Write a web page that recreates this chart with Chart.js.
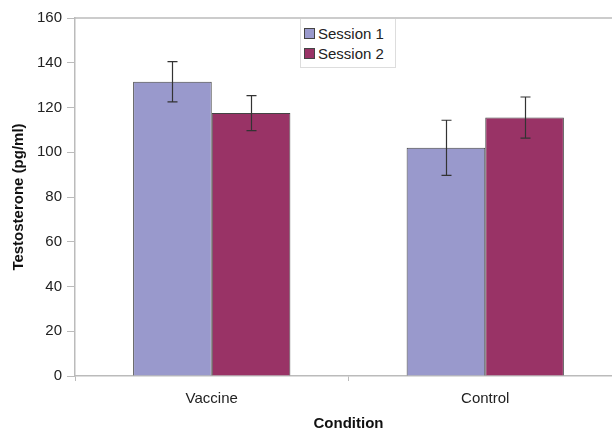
<!DOCTYPE html>
<html>
<head>
<meta charset="utf-8">
<script src="https://cdn.jsdelivr.net/npm/chart.js@4.4.0/dist/chart.umd.min.js"></script>
<style>
  html, body { margin: 0; padding: 0; background: #fff; overflow: hidden; }
  #wrap { position: relative; width: 622px; height: 433px; }
  #legend {
    position: absolute; left: 300px; top: 19px; width: 96px; height: 49px; padding-top: 4px; box-sizing: border-box;
    background: #fff; border: 1px solid #ddd; border-top: none;
    font: 15px "Liberation Sans", Arial, sans-serif; color: #222;
  }
  #legend div { display: flex; align-items: center; height: 20px; padding-left: 3px; }
  #legend span.sw { width: 9px; height: 9px; border: 1px solid #444; margin-right: 3px; }
</style>
</head>
<body>
<div id="wrap">
  <canvas id="c" width="622" height="433"></canvas>
  <div id="legend"></div>
</div>
<script>
const categories = ['Vaccine', 'Control']
const seriesNames = ['Session 1', 'Session 2']
const session1 = [131.5, 102]
const session2 = [117.5, 115.5]
const session1Err = [9, 12.3]
const session2Err = [7.8, 9.2]
const colors = ['#9999cc', '#993366']

const legend = document.getElementById('legend')
seriesNames.forEach((name, i) => {
  const row = document.createElement('div')
  row.innerHTML = `<span class="sw" style="background:${colors[i]}"></span>${name}`
  legend.appendChild(row)
})

const errorBars = {
  id: 'errorBars',
  afterDatasetsDraw(chart) {
    const { ctx, scales: { y } } = chart
    const errs = [session1Err, session2Err]
    ctx.save()
    ctx.strokeStyle = '#333'
    ctx.lineWidth = 1.2
    chart.data.datasets.forEach((ds, di) => {
      chart.getDatasetMeta(di).data.forEach((bar, i) => {
        const v = ds.data[i], e = errs[di][i]
        const top = y.getPixelForValue(v + e), bot = y.getPixelForValue(v - e)
        const x = Math.round(bar.x) + 0.5
        ctx.beginPath()
        ctx.moveTo(x, top); ctx.lineTo(x, bot)
        ctx.moveTo(x - 5, top); ctx.lineTo(x + 5, top)
        ctx.moveTo(x - 5, bot); ctx.lineTo(x + 5, bot)
        ctx.stroke()
      })
    })
    ctx.restore()
  }
}

const frame = {
  id: 'frame',
  beforeDatasetsDraw(chart) {
    const { ctx, chartArea: a } = chart
    ctx.save()
    ctx.strokeStyle = '#bbb'
    ctx.lineWidth = 1.5
    ctx.beginPath()
    ctx.moveTo(a.left, a.top); ctx.lineTo(a.right, a.top)
    ctx.stroke()
    ctx.restore()
  }
}

const tickFont = { family: 'Liberation Sans', size: 15 }
const titleFont = { family: 'Liberation Sans', size: 15, weight: 'bold' }

new Chart(document.getElementById('c'), {
  type: 'bar',
  data: {
    labels: categories,
    datasets: [
      { label: seriesNames[0], data: session1, backgroundColor: colors[0], borderColor: '#444', borderWidth: 1 },
      { label: seriesNames[1], data: session2, backgroundColor: colors[1], borderColor: '#444', borderWidth: 1 },
    ],
  },
  options: {
    responsive: false,
    animation: false,
    layout: { padding: { top: 18, right: 0, left: 0, bottom: 0 } },
    datasets: { bar: { categoryPercentage: 0.575, barPercentage: 1 } },
    scales: {
      x: {
        grid: { drawOnChartArea: false, offset: true, tickLength: 5, color: '#bbb' },
        border: { color: '#bbb', width: 1.5 },
        ticks: { padding: 9, color: '#222', font: tickFont },
        title: { display: true, text: 'Condition', color: '#111', padding: 0, font: titleFont },
        afterFit: s => { s.height = 57 },
      },
      y: {
        min: 0, max: 160,
        ticks: { stepSize: 20, padding: 5, color: '#222', font: tickFont },
        grid: { drawOnChartArea: false, tickLength: 8, color: '#bbb' },
        border: { color: '#bbb', width: 1.5 },
        title: { display: true, text: 'Testosterone (pg/ml)', color: '#111', padding: { top: 10, bottom: 0 }, font: titleFont },
        afterFit: s => { s.width = 75 },
      },
    },
    plugins: { legend: { display: false }, tooltip: { enabled: false } },
  },
  plugins: [errorBars, frame],
})
</script>
</body>
</html>
